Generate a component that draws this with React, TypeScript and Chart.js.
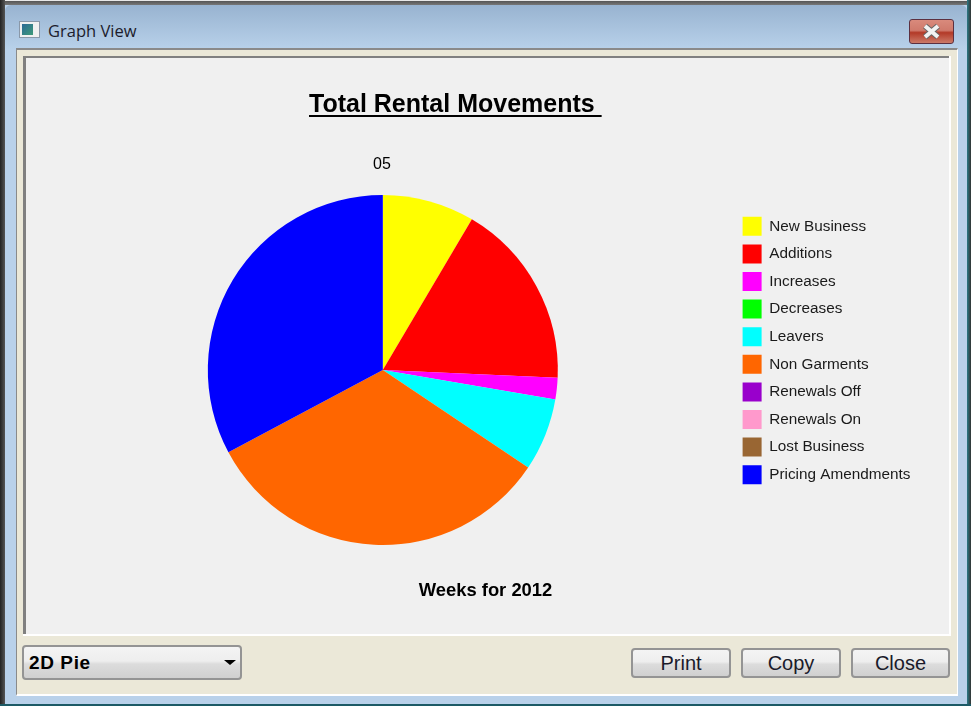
import React, { useEffect, useRef } from "react";
import { Chart, registerables } from "chart.js";

Chart.register(...registerables);

const categories = ["New Business", "Additions", "Increases", "Decreases", "Leavers", "Non Garments", "Renewals Off", "Renewals On", "Lost Business", "Pricing Amendments"];
const values = [8.5, 17.2, 2.0, 0, 6.7, 32.8, 0, 0, 0, 32.8];
const colors = ["#ffff00", "#ff0000", "#ff00ff", "#00ff00", "#00ffff", "#ff6600", "#9900cc", "#ff99cc", "#996633", "#0000ff"];
const chartTitle = "Total Rental Movements ";
const sliceLabel = "05";
const xLabel = "Weeks for 2012";
const FONT = '"Liberation Sans", Arial, sans-serif';

const box = (s: React.CSSProperties): React.CSSProperties => ({ position: "absolute", boxSizing: "border-box", ...s });

const chromeButton: React.CSSProperties = {
  border: "2px solid #949494",
  borderRadius: 4,
  background: "linear-gradient(#f4f4f4 0%, #eeeeee 45%, #dcdcdc 55%, #d0d0d0 100%)",
  display: "flex",
  alignItems: "center",
  justifyContent: "center",
  color: "#1a1a2a",
  font: `20px ${FONT}`,
};

const chartText = {
  id: "chartText",
  afterLayout(chart: any) {
    const l = chart.legend;
    const w = l.right - l.left;
    const h = l.bottom - l.top;
    l.left = 708;
    l.right = 708 + w;
    l.top = 117.5;
    l.bottom = 117.5 + h;
  },
  afterDraw(chart: any) {
    const c = chart.ctx;
    c.save();
    c.fillStyle = "#000";
    c.textBaseline = "alphabetic";
    c.textAlign = "left";
    c.font = `bold 25px ${FONT}`;
    c.fillText(chartTitle, 283, 54);
    const tw = c.measureText(chartTitle).width;
    c.fillRect(283, 57, tw, 2);
    c.font = `16px ${FONT}`;
    c.textAlign = "center";
    c.fillText(sliceLabel, 356, 111);
    c.font = `bold 18.4px ${FONT}`;
    c.fillText(xLabel, 459.5, 538);
    c.restore();
  },
};

export default function App() {
  const ref = useRef<HTMLCanvasElement>(null);
  useEffect(() => {
    const chart = new Chart(ref.current!, {
      type: "pie",
      data: {
        labels: categories,
        datasets: [{ data: values, backgroundColor: colors, borderWidth: 0 }],
      },
      options: {
        animation: false,
        responsive: false,
        layout: { padding: { left: 181, top: 137, bottom: 89, right: 204 } },
        plugins: {
          tooltip: { enabled: false },
          legend: {
            display: true,
            position: "right",
            labels: {
              boxWidth: 19,
              boxHeight: 19,
              padding: 8.6,
              color: "#1a1a1a",
              font: { family: FONT, size: 15.3 },
            },
          },
        },
      },
      plugins: [chartText],
    });
    return () => chart.destroy();
  }, []);

  return (
    <div style={box({ position: "fixed", left: 0, top: 0, width: 971, height: 706, overflow: "hidden", background: "#b9d1ea", fontFamily: FONT, filter: "blur(0.35px)" })}>
      {/* window frame */}
      <div style={box({ left: 0, top: 0, width: 971, height: 5, background: "linear-gradient(#e8e8e8 0 1px, #555 1px, #777)" })} />
      <div style={box({ left: 0, top: 0, width: 5, height: 706, background: "linear-gradient(90deg, #222, #555)" })} />
      <div style={box({ left: 967, top: 0, width: 4, height: 706, background: "linear-gradient(90deg, #2a7a86, #333)" })} />
      <div style={box({ left: 0, top: 704, width: 971, height: 2, background: "#1c5a66" })} />
      <div style={box({ left: 5, top: 5, width: 962, height: 44, background: "linear-gradient(#98b3d0, #b8d1ea)", borderRadius: "6px 6px 0 0" })} />
      {/* caption */}
      <div style={box({ left: 19, top: 21, width: 21, height: 17, background: "#f0f0f0", border: "1px solid #8a98a8" })}>
        <div style={box({ left: 2, top: 2, width: 11, height: 11, background: "linear-gradient(135deg, #2c6a96, #3f9a78)" })} />
      </div>
      <div style={box({ left: 48, top: 19, height: 24, lineHeight: "24px", font: '16.5px "Open Sans", sans-serif', color: "#1c1c2c" })}>Graph View</div>
      <div style={box({ left: 909, top: 19, width: 45, height: 25, borderRadius: 3, border: "1px solid #5c3040", background: "linear-gradient(#d98a7c 0%, #cf7a6c 45%, #b33a28 55%, #cc7a68 100%)" })}>
        <svg width="43" height="23" style={{ display: "block" }}>
          <path d="M15 6 L28 17 M28 6 L15 17" stroke="#666" strokeWidth="6" />
          <path d="M15 6 L28 17 M28 6 L15 17" stroke="#f2f2f2" strokeWidth="4" />
        </svg>
      </div>
      {/* client area */}
      <div style={box({ left: 16, top: 48, width: 942, height: 648, background: "#ebe8d8", borderTop: "2px solid #8a8a8a", borderLeft: "1px solid #8a8a8a", borderRight: "1px solid #fff", borderBottom: "2px solid #fff" })} />
      <div style={box({ left: 23, top: 56, width: 928, height: 580, background: "#fff" })} />
      <div style={box({ left: 23, top: 56, width: 926, height: 578, background: "#f0f0f0", borderTop: "2px solid #808080", borderLeft: "3px solid #808080" })} />
      <canvas ref={ref} width={923} height={576} style={{ position: "absolute", left: 26, top: 58, width: 923, height: 576 }} />
      {/* footer controls */}
      <div style={box({ ...chromeButton, left: 22, top: 645, width: 220, height: 35, justifyContent: "flex-start", paddingLeft: 5, font: `bold 19px ${FONT}`, color: "#000", letterSpacing: 0.6 })}>2D Pie</div>
      <div style={box({ left: 224, top: 660, width: 0, height: 0, borderLeft: "6px solid transparent", borderRight: "6px solid transparent", borderTop: "5px solid #000" })} />
      <div style={box({ ...chromeButton, left: 631, top: 648, width: 100, height: 30 })}>Print</div>
      <div style={box({ ...chromeButton, left: 741, top: 648, width: 100, height: 30 })}>Copy</div>
      <div style={box({ ...chromeButton, left: 851, top: 648, width: 99, height: 30 })}>Close</div>
    </div>
  );
}
